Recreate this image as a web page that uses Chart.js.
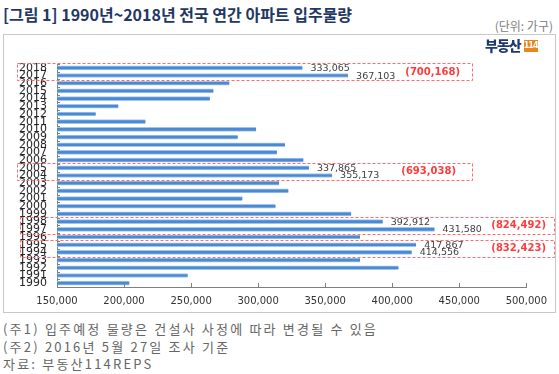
<!DOCTYPE html>
<html>
<head>
<meta charset="utf-8">
<script src="https://cdn.jsdelivr.net/npm/chart.js@4"></script>
<style>
    body { margin: 0; width: 559px; height: 374px; background: #fff; position: relative; overflow: hidden; font-family: "Noto Sans CJK KR", sans-serif; }
    #title { position: absolute; left: 3px; top: 3px; font-size: 16px; font-weight: bold; color: #1f3864; white-space: nowrap; line-height: 22px; }
    #unit { position: absolute; right: 6px; top: 18px; font-size: 12px; color: #808080; line-height: 16px; white-space: nowrap; }
    #frame { position: absolute; left: 3px; top: 34px; width: 553px; height: 279px; border: 1px solid #c8c8c8; box-sizing: border-box; }
    #frame canvas { position: absolute; left: 0; top: 0; }
    #logo { position: absolute; left: 485px; top: 38px; height: 15px; white-space: nowrap; }
    #logo .name { font-size: 14px; font-weight: 900; color: #1f3a6e; line-height: 15px; letter-spacing: -1px; vertical-align: top; }
    #logo .num { display: inline-block; width: 14px; height: 12px; margin-top: 2px; margin-left: 3px; background: #e8871e; color: #fff; font-family: "DejaVu Sans"; font-size: 8px; font-weight: bold; line-height: 12px; text-align: center; vertical-align: top; letter-spacing: -1px; }
    .note { position: absolute; left: 3px; font-size: 13px; color: #666; line-height: 18px; white-space: nowrap; letter-spacing: 2.2px; }
</style>
</head>
<body>
<div id="title">[그림 1] 1990년~2018년 전국 연간 아파트 입주물량</div>
<div id="unit">(단위: 가구)</div>
<div id="frame"><canvas id="chart" width="551" height="277"></canvas></div>
<div id="logo"><span class="name">부동산</span><span class="num">114</span></div>
<div class="note" style="top:320px">(주1) 입주예정 물량은 건설사 사정에 따라 변경될 수 있음</div>
<div class="note" style="top:338px">(주2) 2016년 5월 27일 조사 기준</div>
<div class="note" style="top:355px">자료: 부동산114REPS</div>
<script>
// years, oldest first (drawn bottom-up)
const years = [
    '1990', '1991', '1992', '1993', '1994', '1995', '1996', '1997', '1998', '1999',
    '2000', '2001', '2002', '2003', '2004', '2005', '2006', '2007', '2008', '2009',
    '2010', '2011', '2012', '2013', '2014', '2015', '2016', '2017', '2018'
];
// move-in volume (households)
const volumes = [
    204000, 247500, 404700, 376000, 414556, 417867, 376000, 431580, 392912, 369400,
    313000, 288300, 322600, 315700, 355173, 337865, 333800, 314000, 320000, 284800,
    298500, 216000, 178900, 195800, 264000, 266700, 278600, 367103, 333065
];
// highlighted two-year peaks
const peakPairs = [['2018', '2017'], ['2005', '2004'], ['1998', '1997'], ['1995', '1994']];
const xTicks = [150000, 200000, 250000, 300000, 350000, 400000, 450000, 500000];

const fmt = v => v.toLocaleString('en-US');

const peakPlugin = {
    id: 'peaks',
    afterDatasetsDraw(chart) {
        const { ctx, scales: { x, y } } = chart;
        ctx.save();

        // tick marks drawn inside the plot
        ctx.strokeStyle = '#7f7f7f';
        ctx.lineWidth = 1;
        ctx.beginPath();
        for (const v of xTicks) {
            const px = Math.round(x.getPixelForValue(v)) + 0.5;
            ctx.moveTo(px, y.bottom);
            ctx.lineTo(px, y.bottom - 4);
        }
        for (let i = 0; i <= years.length; i++) {
            const py = Math.round(y.getPixelForValue(i - 0.5)) + 0.5;
            ctx.moveTo(x.left, py);
            ctx.lineTo(x.left + 3, py);
        }
        ctx.stroke();

        // dashed boxes, single values and pair totals
        const boxLeft = [13, 13, 16, 16];
        const boxRight = [468, 468, 550, 550];
        const sumGap = [12, 16, 8, 8];
        peakPairs.forEach((pair, g) => {
            const idx = pair.map(yr => years.indexOf(yr));
            const top = y.getPixelForValue(idx[0]) - 5;
            const bottom = y.getPixelForValue(idx[1]) + 4.5;

            ctx.setLineDash([3, 2]);
            ctx.strokeStyle = '#ff6b6b';
            ctx.strokeRect(Math.round(boxLeft[g]) + 0.5, Math.round(top) + 0.5, boxRight[g] - boxLeft[g], Math.round(bottom - top));
            ctx.setLineDash([]);

            ctx.font = '9.5px "DejaVu Sans"';
            ctx.fillStyle = '#404040';
            ctx.textAlign = 'left';
            ctx.textBaseline = 'middle';
            let total = 0;
            for (const i of idx) {
                total += volumes[i];
                ctx.fillText(fmt(volumes[i]), x.getPixelForValue(volumes[i]) + 8, y.getPixelForValue(i) + 0.5);
            }

            ctx.font = 'bold 10px "DejaVu Sans"';
            ctx.fillStyle = '#ff3b3b';
            ctx.textAlign = 'right';
            ctx.fillText(`(${fmt(total)})`, boxRight[g] - sumGap[g], (top + bottom) / 2 + 0.5);
        });
        ctx.restore();
    }
};

new Chart(document.getElementById('chart'), {
    type: 'bar',
    data: {
        labels: years,
        datasets: [{
            data: volumes,
            backgroundColor: '#4a8ad4',
            borderColor: '#a3c5ec',
            borderWidth: { top: 1, bottom: 1, left: 0, right: 0 },
            borderSkipped: false,
            barThickness: 4
        }]
    },
    options: {
        indexAxis: 'y',
        responsive: false,
        animation: false,
        devicePixelRatio: 1,
        layout: { padding: { top: 29, right: 27, left: 0, bottom: 0 } },
        plugins: {
            legend: { display: false },
            tooltip: { enabled: false }
        },
        scales: {
            x: {
                min: 150000,
                max: 500000,
                afterFit: s => { s.height = 25; },
                afterBuildTicks: s => { s.ticks = xTicks.map(v => ({ value: v })); },
                grid: { display: false, drawTicks: false, tickLength: 0 },
                border: { display: true, color: '#7f7f7f' },
                ticks: {
                    padding: 8,
                    maxRotation: 0,
                    color: '#333',
                    font: { family: 'DejaVu Sans', size: 10 },
                    callback: v => fmt(v)
                }
            },
            y: {
                reverse: true,
                afterFit: s => { s.width = 53; },
                grid: { display: false, drawTicks: false, tickLength: 0 },
                border: { display: true, color: '#7f7f7f' },
                ticks: {
                    autoSkip: false,
                    padding: 10,
                    color: '#262626',
                    font: { family: 'DejaVu Sans', size: 11 }
                }
            }
        }
    },
    plugins: [peakPlugin]
});
</script>
</body>
</html>
